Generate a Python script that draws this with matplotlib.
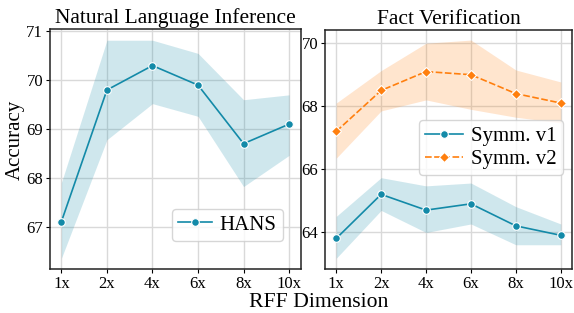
import numpy as np
import matplotlib.pyplot as plt

# data
dims = ['1x', '2x', '4x', '6x', '8x', '10x']

hans = [67.1, 69.8, 70.3, 69.9, 68.7, 69.1]
hans_hi = [67.9, 70.82, 70.82, 70.55, 69.6, 69.7]
hans_lo = [66.35, 68.78, 69.52, 69.26, 67.82, 68.46]

symm1 = [63.8, 65.2, 64.7, 64.9, 64.2, 63.9]
symm1_hi = [64.5, 65.73, 65.47, 65.56, 64.81, 64.26]
symm1_lo = [63.17, 64.69, 63.99, 64.26, 63.6, 63.6]

symm2 = [67.2, 68.5, 69.1, 69.0, 68.4, 68.1]
symm2_hi = [68.1, 69.13, 70.0, 70.1, 69.15, 68.77]
symm2_lo = [66.35, 67.85, 68.2, 67.9, 67.65, 67.47]

teal = '#138aa8'
orange = '#ff7f0e'

plt.rcParams['font.family'] = ['Liberation Serif', 'DejaVu Serif']

fig = plt.figure(figsize=(5.74, 3.13), dpi=100)
ax1 = fig.add_axes([50 / 574, 1 - 269 / 313, 250.5 / 574, 240 / 313])
ax2 = fig.add_axes([325 / 574, 1 - 269 / 313, 247 / 574, 239 / 313])

x = np.arange(len(dims))


def style(ax):
    ax.grid(True, color='#d9d9d9', linewidth=1.0)
    ax.set_axisbelow(True)
    for s in ax.spines.values():
        s.set_color('#222222')
        s.set_linewidth(1.1)
    ax.tick_params(labelsize=12, length=3, width=0.8, pad=2)
    ax.set_xticks(x)
    ax.set_xticklabels(dims)
    ax.set_xlim(-0.25, 5.25)


# left: NLI
ax1.fill_between(x, hans_lo, hans_hi, color=teal, alpha=0.2, linewidth=0)
ax1.plot(x, hans, color=teal, lw=1.2, marker='o', ms=5.5, mec='white', mew=0.8, label='HANS')
style(ax1)
ax1.set_ylim(66.13, 71.05)
ax1.set_yticks([67, 68, 69, 70, 71])
ax1.set_title('Natural Language Inference', fontsize=15.5, pad=4)
ax1.set_ylabel('Accuracy', fontsize=15)
ax1.yaxis.set_label_coords(-0.1, 0.54)
ax1.legend(loc='lower right', bbox_to_anchor=(0.93, 0.117), fontsize=15,
           handlelength=1.6, handletextpad=0.4, borderpad=0.3, borderaxespad=0,
           framealpha=0.8, edgecolor='#cccccc')

# right: fact verification
ax2.fill_between(x, symm1_lo, symm1_hi, color=teal, alpha=0.2, linewidth=0)
ax2.fill_between(x, symm2_lo, symm2_hi, color=orange, alpha=0.2, linewidth=0)
ax2.plot(x, symm1, color=teal, lw=1.2, marker='o', ms=5.5, mec='white', mew=0.8, label='Symm. v1')
ax2.plot(x, symm2, color=orange, lw=1.2, ls=(0, (4, 1.5)), marker='D', ms=5,
         mec='white', mew=0.8, label='Symm. v2')
style(ax2)
ax2.set_ylim(62.83, 70.42)
ax2.set_yticks([64, 66, 68, 70])
ax2.set_title('Fact Verification', fontsize=15.5, pad=4)
ax2.legend(loc='lower right', bbox_to_anchor=(0.964, 0.393), fontsize=15,
           handlelength=1.8, handletextpad=0.4, borderpad=0.3, labelspacing=0.15,
           borderaxespad=0, framealpha=0.8, edgecolor='#cccccc')

fig.text(318.5 / 574, 1 - 307 / 313, 'RFF Dimension', fontsize=15.6, ha='center', va='baseline')

fig.savefig('out.png', dpi=100)
